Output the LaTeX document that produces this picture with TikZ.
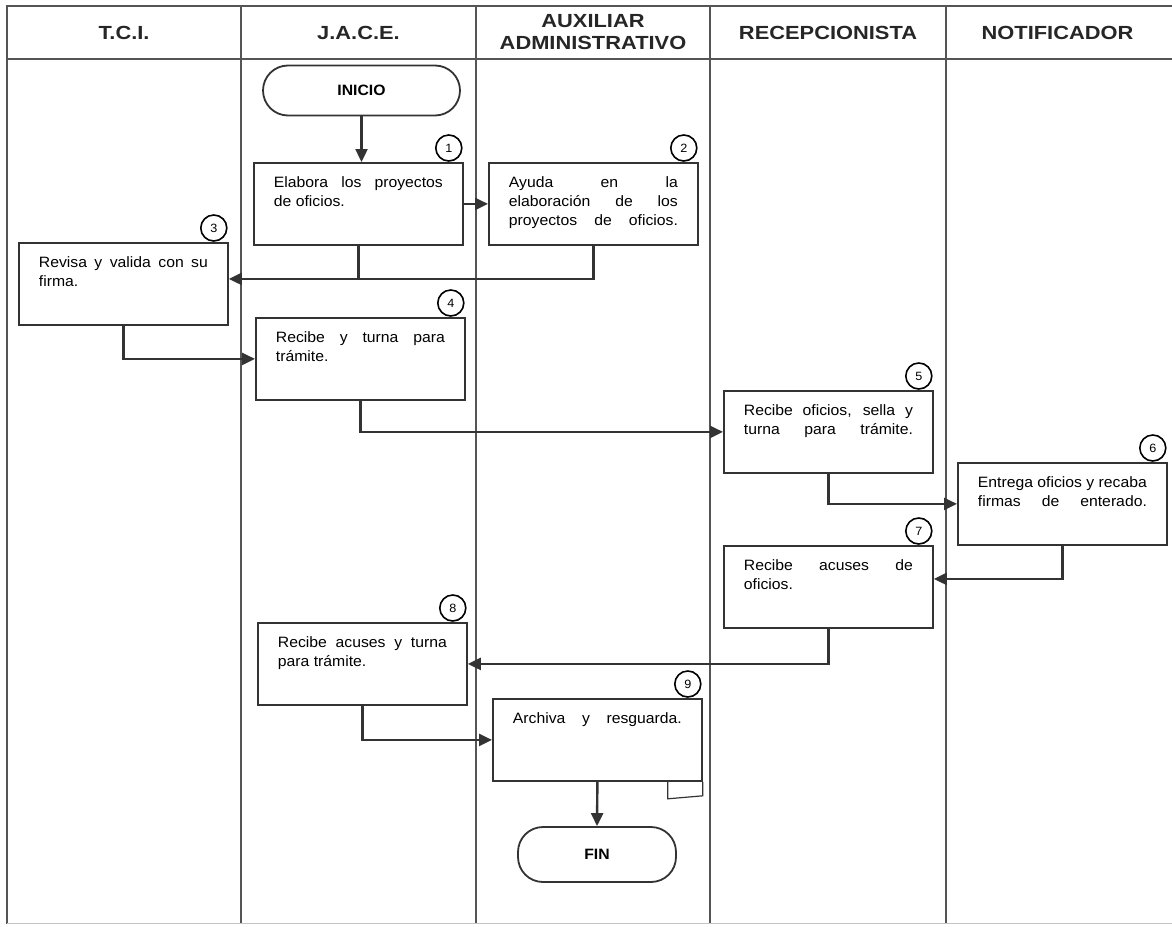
\documentclass[tikz,border=0pt]{standalone}
\usepackage{fontspec}
\setmainfont[FakeStretch=1.05]{Liberation Sans}
\newfontfamily\cabfont[FakeStretch=1.15]{Liberation Sans}
\usetikzlibrary{arrows.meta, positioning}
\definecolor{trazo}{HTML}{333333}
\definecolor{rejilla}{HTML}{555555}

\begin{document}
\begin{tikzpicture}[x=1pt, y=1pt,
  font=\fontsize{15}{19}\selectfont, text=black,
  cabecera/.style={font=\cabfont\fontsize{19}{22}\selectfont\bfseries, align=center, text=black!85},
  paso/.style={draw=trazo, line width=1.8pt, anchor=north west, align=justify,
               text width=169pt, inner xsep=20pt, inner ysep=14pt,
               text height=11pt, text depth=43pt},
  lleno/.style={execute at begin node={\parfillskip=0pt\relax}},
  num/.style={circle, draw=black, line width=1.6pt, minimum size=26pt,
              inner sep=0pt, font=\fontsize{12}{14}\selectfont},
  term/.style={draw=trazo, line width=1.8pt, rounded corners=25pt, minimum width=197pt,
               minimum height=50pt, font=\fontsize{15}{17}\selectfont\bfseries},
  a/.style={-{Triangle[length=13pt,width=12pt]}, draw=trazo, line width=2.4pt},
  linea/.style={draw=trazo, line width=2.4pt}
]
\useasboundingbox (0,0) rectangle (1172,-926);

% carriles
\draw[rejilla, line width=1.5pt] (7,-924) -- (7,-6) -- (1172,-6);
\draw[rejilla, line width=1.5pt] (7,-59) -- (1172,-59);
\foreach \x in {241,476,710,946}
  \draw[rejilla, line width=1.5pt] (\x,-6) -- (\x,-924);
\draw[rejilla!35, line width=1pt] (7,-923) -- (1172,-923);

\node[cabecera] (tci) at (124,-32.5) {T.C.I.};
\node[cabecera] (jace) at (358.5,-32.5) {J.A.C.E.};
\node[cabecera] (aux) at (593,-32.5) {AUXILIAR\\ADMINISTRATIVO};
\node[cabecera] (recep) at (828,-32.5) {RECEPCIONISTA};
\node[cabecera] (notif) at (1057.5,-32.5) {NOTIFICADOR};

% pasos
\node[term] (inicio) at (361.5,-90.5) {INICIO};
\node[paso] (b1) at (253,-162) {Elabora los proyectos\linebreak de oficios.};
\node[paso,lleno] (b2) at (488,-162) {Ayuda en la\linebreak elaboración de los\linebreak proyectos de oficios.};
\node[paso] (b3) at (18,-242) {Revisa y valida con su\linebreak firma.};
\node[paso] (b4) at (255,-317) {Recibe y turna para\linebreak trámite.};
\node[paso,lleno] (b5) at (723,-390) {Recibe oficios, sella y\linebreak turna para trámite.};
\node[paso,lleno] (b6) at (957,-462) {Entrega oficios y recaba\linebreak firmas de enterado.};
\node[paso] (b7) at (723,-545) {Recibe acuses de\linebreak oficios.};
\node[paso] (b8) at (257,-622) {Recibe acuses y turna\linebreak para trámite.};
\node[paso,lleno] (b9) at (492,-698) {Archiva y resguarda.};
\node[term, minimum width=158pt, minimum height=55pt] (fin) at (597,-854.5) {FIN};

\foreach \b/\n in {b1/1,b2/2,b3/3,b4/4,b5/5,b6/6,b7/7,b8/8,b9/9}
  \node[num] (n\n) at ([shift={(-15,14)}]\b.north east) {\n};

\draw[trazo, line width=1.2pt] ([xshift=-35pt]b9.south east) -- ++(0,-17)
  -- ([yshift=-14pt]b9.south east) -- (b9.south east);

% flujo
\coordinate (e3) at ([yshift=5pt]b3.east);
\coordinate (e7) at ([yshift=8pt]b7.east);
\draw[a] (inicio.south) -- (inicio.south |- b1.north);
\draw[a] (b1.east) -- (b2.west);
\draw[linea] (b1.south) -- (b1.south |- e3);
\draw[a] (b2.south) |- (e3);
\draw[a] (b3.south) |- (b4.west);
\draw[a] (b4.south) |- (b5.west);
\draw[a] (b5.south) |- (b6.west);
\draw[a] (b6.south) |- (e7);
\draw[a] (b7.south) |- (b8.east);
\draw[a] (b8.south) |- (b9.west);
\draw[a] (b9.south) -- (fin.north);
\end{tikzpicture}
\end{document}
